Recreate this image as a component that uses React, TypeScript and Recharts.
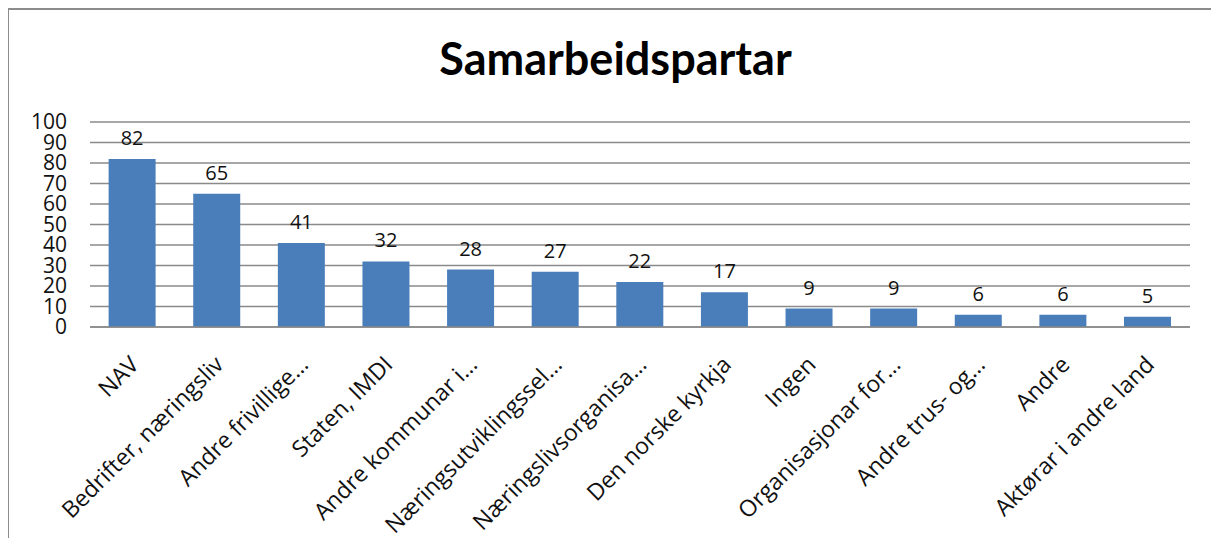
import { BarChart, Bar, XAxis, YAxis, CartesianGrid, LabelList } from 'recharts';

const categories = [
  'NAV',
  'Bedrifter, næringsliv',
  'Andre frivillige…',
  'Staten, IMDI',
  'Andre kommunar i…',
  'Næringsutviklingssel…',
  'Næringslivsorganisa…',
  'Den norske kyrkja',
  'Ingen',
  'Organisasjonar for…',
  'Andre trus- og…',
  'Andre',
  'Aktørar i andre land',
];
const values = [82, 65, 41, 32, 28, 27, 22, 17, 9, 9, 6, 6, 5];
const yTicks = [0, 10, 20, 30, 40, 50, 60, 70, 80, 90, 100];

const data = categories.map((name, i) => ({ name, value: values[i] }));

const FONT = '"Open Sans", Lato, sans-serif';

function AngledTick(props: any) {
  const { x, y, payload } = props;
  const ax = x + 8;
  const ay = y + 31;
  return (
    <text
      x={ax}
      y={ay}
      transform={`rotate(-45, ${ax}, ${ay})`}
      textAnchor="end"
      fontSize={23}
      fontFamily={FONT}
      fill="#111"
    >
      {payload.value}
    </text>
  );
}

export default function App() {
  return (
    <div
      style={{
        position: 'relative',
        width: 1211,
        height: 530,
        borderTop: '2px solid #8c8c8c',
        borderLeft: '2px solid #8c8c8c',
        borderRight: '2px solid #8c8c8c',
        boxSizing: 'border-box',
        background: '#fff',
        marginLeft: -1,
      }}
    >
      <div
        style={{
          position: 'absolute',
          left: 0,
          right: 0,
          top: 18,
          textAlign: 'center',
          fontFamily: 'Lato, sans-serif',
          fontWeight: 700,
          fontSize: 45,
          lineHeight: '60px',
          color: '#000',
          paddingLeft: 6,
        }}
      >
        Samarbeidspartar
      </div>
      <BarChart
        width={1207}
        height={528}
        data={data}
        margin={{ top: 112, right: 26, left: 0, bottom: 0 }}
        barCategoryGap="22%"
      >
        <CartesianGrid vertical={false} stroke="#8a8a8a" strokeWidth={1.5} />
        <YAxis
          width={81}
          domain={[0, 100]}
          ticks={yTicks}
          interval={0}
          axisLine={false}
          tickLine={false}
          tickMargin={17}
          tick={{ fontSize: 21, fill: '#111', fontFamily: FONT }}
        />
        <XAxis
          dataKey="name"
          height={211}
          interval={0}
          axisLine={{ stroke: '#8a8a8a', strokeWidth: 1.5 }}
          tickLine={false}
          tick={<AngledTick />}
        />
        <Bar dataKey="value" fill="#4a7ebb" isAnimationActive={false}>
          <LabelList
            dataKey="value"
            position="top"
            offset={14}
            fontSize={20}
            fill="#111"
            fontFamily={FONT}
          />
        </Bar>
      </BarChart>
    </div>
  );
}
